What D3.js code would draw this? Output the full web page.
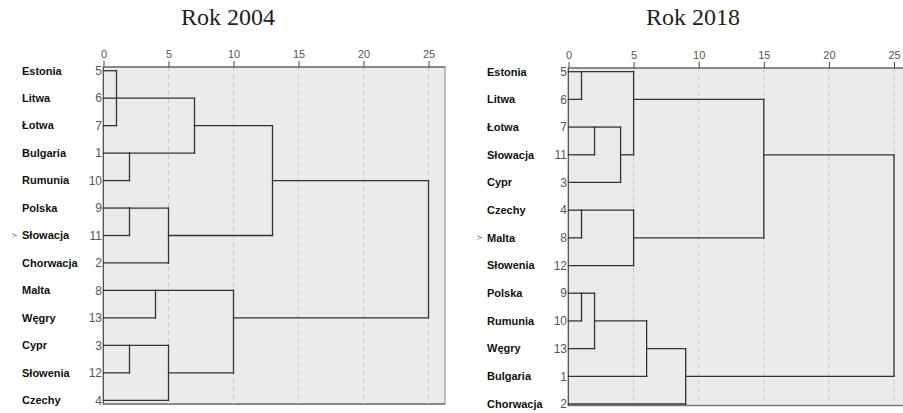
<!DOCTYPE html>
<html>
<head>
<meta charset="utf-8">
<script src="https://cdn.jsdelivr.net/npm/d3@7"></script>
<style>
  body { margin: 0; background: #fff; }
  svg { display: block; }
</style>
</head>
<body>
<svg id="chart" width="903" height="413"></svg>
<script>
// ---------------- DATA ----------------
const titles = ["Rok 2004", "Rok 2018"];
const axisTicks = [0, 5, 10, 15, 20, 25];

// 2004
const labels2004 = ["Estonia","Litwa","Łotwa","Bulgaria","Rumunia","Polska","Słowacja","Chorwacja","Malta","Węgry","Cypr","Słowenia","Czechy"];
const cases2004 = [5, 6, 7, 1, 10, 9, 11, 2, 8, 13, 3, 12, 4];
// merges: [child A, child B, rescaled distance]; leaves 0..12 = rows, clusters 13+ in order
const mergeA2004 = [0, 13, 3, 5, 10, 8, 16, 17, 14, 18, 21, 23];
const mergeB2004 = [2, 1, 4, 6, 11, 9, 7, 12, 15, 20, 19, 22];
const height2004 = [1, 1, 2, 2, 2, 4, 5, 5, 7, 10, 13, 25];
const marked2004 = "Słowacja";

// 2018
const labels2018 = ["Estonia","Litwa","Łotwa","Słowacja","Cypr","Czechy","Malta","Słowenia","Polska","Rumunia","Węgry","Bulgaria","Chorwacja"];
const cases2018 = [5, 6, 7, 11, 3, 4, 8, 12, 9, 10, 13, 1, 2];
const mergeA2018 = [0, 5, 8, 2, 15, 16, 13, 14, 17, 21, 19, 23];
const mergeB2018 = [1, 6, 9, 3, 10, 4, 18, 7, 11, 12, 20, 22];
const height2018 = [1, 1, 1, 2, 2, 4, 5, 5, 6, 9, 15, 25];
const marked2018 = "Malta";

// ---------------- DRAW ----------------
const svg = d3.select("#chart");

function drawPanel(cfg) {
  const g = svg.append("g");
  const x = d3.scaleLinear().domain([0, 25]).range([cfg.x0, cfg.x25]);
  const y = d3.scalePoint().domain(d3.range(cfg.labels.length)).range([cfg.yFirst, cfg.yLast]);

  // title
  g.append("text")
    .attr("x", cfg.titleX).attr("y", 25)
    .attr("text-anchor", "middle")
    .style("font-family", "'Liberation Serif', 'Times New Roman', serif")
    .style("font-size", "24px").attr("fill", "#222")
    .text(cfg.title);

  // panel background
  g.append("rect")
    .attr("x", x(0)).attr("y", cfg.top)
    .attr("width", cfg.right - x(0)).attr("height", cfg.bottom - cfg.top)
    .attr("fill", "#ebebeb").attr("stroke", "#8a8a8a").attr("stroke-width", 1);
  g.append("line")
    .attr("x1", x(0)).attr("x2", cfg.right)
    .attr("y1", cfg.bottom).attr("y2", cfg.bottom)
    .attr("stroke", "#777").attr("stroke-width", 1.5);

  // grid
  g.selectAll(".grid").data(axisTicks.filter(t => t > 0)).enter().append("line")
    .attr("x1", d => x(d) + 0.5).attr("x2", d => x(d) + 0.5)
    .attr("y1", cfg.top).attr("y2", cfg.bottom)
    .attr("stroke", "#c4c4c4").attr("stroke-width", 1).attr("stroke-dasharray", "4,4");

  // top axis
  const axis = d3.axisTop(x).tickValues(axisTicks).tickSize(6).tickPadding(3);
  const ag = g.append("g").attr("transform", `translate(0.5,${cfg.top})`).call(axis);
  ag.select(".domain").attr("stroke", "#555").attr("d", `M${x(0)},0H${cfg.right}`);
  ag.selectAll(".tick line").attr("stroke", "#444");
  ag.selectAll(".tick text")
    .style("font-family", "'Liberation Sans', Arial, sans-serif")
    .style("font-size", "11px").attr("fill", "#555");

  // left axis line
  g.append("line")
    .attr("x1", x(0) + 0.5).attr("x2", x(0) + 0.5)
    .attr("y1", cfg.top).attr("y2", cfg.bottom)
    .attr("stroke", "#555").attr("stroke-width", 1);

  // labels
  g.selectAll(".name").data(cfg.labels).enter().append("text")
    .attr("x", cfg.nameX).attr("y", (d, i) => y(i)).attr("dy", "0.35em")
    .style("font-family", "'Liberation Sans', Arial, sans-serif")
    .style("font-size", "11px").style("font-weight", "bold").attr("fill", "#111")
    .text(d => d);
  g.selectAll(".case").data(cfg.cases).enter().append("text")
    .attr("x", x(0) - 1).attr("y", (d, i) => y(i)).attr("dy", "0.35em")
    .attr("text-anchor", "end")
    .style("font-family", "'Liberation Sans', Arial, sans-serif")
    .style("font-size", "12px").attr("fill", "#555")
    .text(d => d);
  const mi = cfg.labels.indexOf(cfg.marked);
  g.append("text")
    .attr("x", cfg.nameX - 4).attr("y", y(mi)).attr("dy", "0.3em")
    .attr("text-anchor", "end")
    .style("font-family", "'DejaVu Sans', sans-serif")
    .style("font-size", "8px").attr("fill", "#666")
    .text("≻");

  // dendrogram
  const n = cfg.labels.length;
  const nodeRow = d3.range(n);
  const nodeH = d3.range(n).map(() => 0);
  const segs = [];
  cfg.mA.forEach((a, k) => {
    const b = cfg.mB[k], h = cfg.h[k];
    const ra = nodeRow[a], rb = nodeRow[b];
    segs.push([nodeH[a], ra, h, ra]);
    segs.push([nodeH[b], rb, h, rb]);
    segs.push([h, ra, h, rb]);
    nodeRow.push(Math.floor((ra + rb) / 2));
    nodeH.push(h);
  });
  g.selectAll(".seg").data(segs.filter(s => !(s[0] === s[2] && s[1] === s[3]))).enter().append("line")
    .attr("x1", s => x(s[0]) + 0.5).attr("x2", s => x(s[2]) + 0.5)
    .attr("y1", s => y(s[1])).attr("y2", s => y(s[3]))
    .attr("stroke", "#333").attr("stroke-width", 1.3).attr("stroke-linecap", "square");
}

drawPanel({
  title: titles[0], titleX: 228,
  labels: labels2004, cases: cases2004, marked: marked2004,
  mA: mergeA2004, mB: mergeB2004, h: height2004,
  x0: 103, x25: 428, right: 445, top: 67, bottom: 404,
  yFirst: 70.7, yLast: 400.3, nameX: 22
});
drawPanel({
  title: titles[1], titleX: 693,
  labels: labels2018, cases: cases2018, marked: marked2018,
  mA: mergeA2018, mB: mergeB2018, h: height2018,
  x0: 568, x25: 893.5, right: 910, top: 68, bottom: 405.5,
  yFirst: 71.7, yLast: 404, nameX: 487
});
</script>
</body>
</html>
